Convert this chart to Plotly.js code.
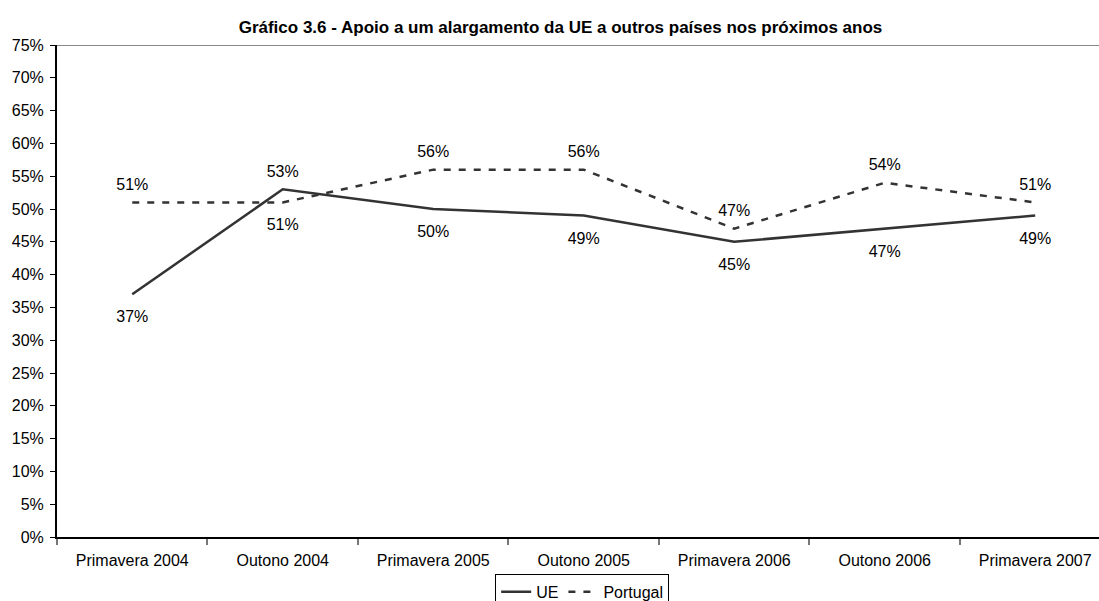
<!DOCTYPE html>
<html>
<head>
<meta charset="utf-8">
<script src="https://cdn.plot.ly/plotly-3.0.1.min.js"></script>
<style>html,body{margin:0;padding:0;background:#fff;}#chart{width:1099px;height:601px;}</style>
</head>
<body>
<div id="chart"></div>
<script>
const categories = ["Primavera 2004", "Outono 2004", "Primavera 2005", "Outono 2005", "Primavera 2006", "Outono 2006", "Primavera 2007"];
const ueValues = [37, 53, 50, 49, 45, 47, 49];
const ptValues = [51, 51, 56, 56, 47, 54, 51];
const uePositions = ["bottom center", "top center", "bottom center", "bottom center", "bottom center", "bottom center", "bottom center"];
const ptPositions = ["top center", "bottom center", "top center", "top center", "top center", "top center", "top center"];
const yTicks = [0,5,10,15,20,25,30,35,40,45,50,55,60,65,70,75];

const FONT = "Arial, 'Liberation Sans', sans-serif";
const sizeFor = pos => pos.map(p => p.startsWith("top") ? 12 : 24);

const traces = [
  {
    x: categories, y: ueValues, name: "UE", type: "scatter", mode: "lines+markers+text",
    line: {color: "#333333", width: 2.5},
    marker: {size: sizeFor(uePositions), color: "rgba(0,0,0,0)", line: {width: 0}},
    text: ueValues.map(v => v + "%"), textposition: uePositions,
    textfont: {family: FONT, size: 16, color: "#000"},
    cliponaxis: false
  },
  {
    x: categories, y: ptValues, name: "Portugal", type: "scatter", mode: "lines+markers+text",
    line: {color: "#333333", width: 2.5, dash: "7px,8px"},
    marker: {size: sizeFor(ptPositions), color: "rgba(0,0,0,0)", line: {width: 0}},
    text: ptValues.map(v => v + "%"), textposition: ptPositions,
    textfont: {family: FONT, size: 16, color: "#000"},
    cliponaxis: false
  }
];

const layout = {
  width: 1099, height: 601,
  margin: {l: 57, r: 0, t: 45, b: 64, autoexpand: false},
  paper_bgcolor: "#fff", plot_bgcolor: "#fff",
  font: {family: FONT, size: 16, color: "#000"},
  title: {text: "<b>Gráfico 3.6 - Apoio a um alargamento da UE a outros países nos próximos anos</b>",
          font: {family: FONT, size: 17, color: "#000"}, x: 0.51, xanchor: "center", y: 0.955, yanchor: "middle"},
  showlegend: true,
  legend: {orientation: "h", x: 0.504, xanchor: "center", y: -0.075, yanchor: "top",
           bordercolor: "#000", borderwidth: 1, font: {family: FONT, size: 16, color: "#000"},
           itemwidth: 30, tracegroupgap: 0, itemclick: false},
  xaxis: {
    type: "category", range: [-0.5, 6.424], fixedrange: true,
    showline: true, linecolor: "#000", linewidth: 2,
    showgrid: false, zeroline: false,
    ticks: "outside", tickson: "boundaries", ticklen: 6, tickcolor: "#777", tickwidth: 2,
    ticklabelstandoff: 8,
    tickfont: {family: FONT, size: 16, color: "#000"}
  },
  yaxis: {
    range: [0, 75], tickvals: yTicks, ticktext: yTicks.map(v => v + "%"),
    showline: true, linecolor: "#000", linewidth: 2,
    showgrid: false, zeroline: false,
    ticks: "outside", ticklen: 5, tickcolor: "#000", tickwidth: 1,
    ticklabelstandoff: 3,
    tickfont: {family: FONT, size: 16, color: "#000"}
  },
  shapes: [
    {type: "line", xref: "paper", yref: "y", x0: 0, x1: 1, y0: 75, y1: 75,
     line: {color: "#888", width: 2}}
  ]
};

Plotly.newPlot("chart", traces, layout, {displayModeBar: false, staticPlot: true});
</script>
</body>
</html>
